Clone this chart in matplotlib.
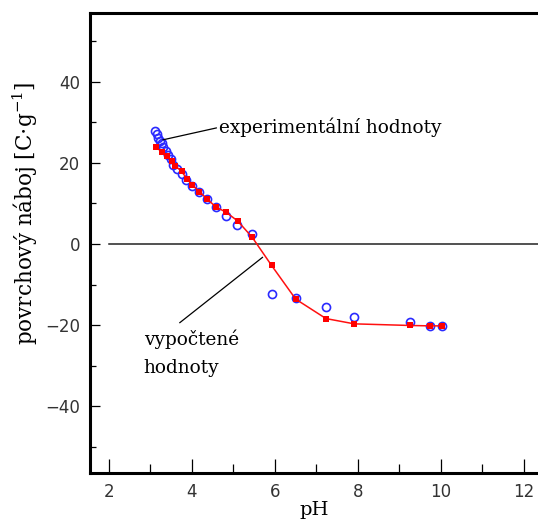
import matplotlib
matplotlib.use("Agg")
import matplotlib.pyplot as plt

# experimental values (blue open circles)
ph_exp = [3.11, 3.15, 3.19, 3.23, 3.27, 3.31, 3.37, 3.43, 3.49, 3.55, 3.63, 3.75, 3.87,
          4.01, 4.17, 4.37, 4.57, 4.82, 5.08, 5.45, 5.92, 6.50, 7.23, 7.91, 9.25, 9.73, 10.03]
q_exp = [28.0, 27.1, 26.2, 25.5, 24.8, 24.0, 23.0, 22.0, 20.9, 19.5, 18.5, 17.3, 15.8,
         14.4, 12.8, 11.1, 9.2, 6.8, 4.7, 2.4, -12.3, -13.3, -15.6, -18.0, -19.3, -20.2, -20.2]

# calculated values (red squares + line)
ph_calc = [3.13, 3.27, 3.39, 3.51, 3.60, 3.75, 3.89, 4.01, 4.18, 4.37, 4.57, 4.83, 5.10,
           5.45, 5.92, 6.50, 7.23, 7.91, 9.25, 9.73, 10.03]
q_calc = [23.9, 22.8, 21.6, 20.5, 19.3, 17.9, 16.0, 14.6, 12.9, 11.1, 9.2, 7.8, 5.7,
          1.7, -5.3, -13.6, -18.4, -19.7, -20.1, -20.2, -20.2]

xticks = [2, 4, 6, 8, 10, 12]
yticks = [-40, -20, 0, 20, 40]

serif = "DejaVu Serif"
plt.rcParams["mathtext.fontset"] = "dejavuserif"

fig = plt.figure(figsize=(5.38, 5.20), dpi=100)
ax = fig.add_axes([0.167, 0.0904, 0.833, 0.8846])

ax.axhline(0, xmin=(2 - 1.542) / (12.337 - 1.542), xmax=1, color="#222222", lw=1.1)

ax.plot(ph_exp, q_exp, "o", mfc="none", mec="#2a2aff", ms=5.8, mew=1.2, zorder=3)
ax.plot(ph_calc, q_calc, "-", color="#ff1010", lw=1.1, zorder=4)
ax.plot(ph_calc, q_calc, "s", color="#ff0000", ms=3.8, mew=0, zorder=5)

ax.set_xlim(1.542, 12.337)
ax.set_ylim(-56.5, 57.0)
ax.set_xticks(xticks)
ax.set_xticks([3, 5, 7, 9, 11], minor=True)
ax.set_yticks(yticks)
ax.set_yticks([-50, -30, -10, 10, 30, 50], minor=True)

for s in ["left", "bottom", "top"]:
    ax.spines[s].set_linewidth(2.2)
ax.spines["right"].set_visible(False)

ax.tick_params(axis="x", which="major", direction="in", length=10, width=0.9, pad=7,
               labelsize=12, labelcolor="#333333")
ax.tick_params(axis="x", which="minor", direction="in", length=6.5, width=0.9)
ax.tick_params(axis="y", which="major", direction="in", length=7, width=0.9, pad=7,
               labelsize=12, labelcolor="#333333")
ax.tick_params(axis="y", which="minor", direction="in", length=4.5, width=0.9)

ax.set_xlabel("pH", family=serif, fontsize=14, labelpad=0)
ax.set_ylabel("povrchový náboj [C$\\cdot$g$^{-1}$]", family=serif, fontsize=15.5)
ax.yaxis.set_label_coords(-0.112, 0.565)

# annotations
ax.annotate("experimentální hodnoty", xy=(3.30, 25.7), xytext=(4.66, 28.8),
            family=serif, fontsize=13.3, va="center", ha="left",
            arrowprops=dict(arrowstyle="-", color="black", lw=0.9, shrinkA=0, shrinkB=0,
                            relpos=(0, 0.5)))
ax.plot([3.71, 5.70], [-19.4, -3.3], color="black", lw=0.9)
ax.text(2.84, -21.0, "vypočtené\nhodnoty", family=serif, fontsize=13.3, va="top", ha="left",
        linespacing=1.75)

fig.savefig("out.png", dpi=100)
